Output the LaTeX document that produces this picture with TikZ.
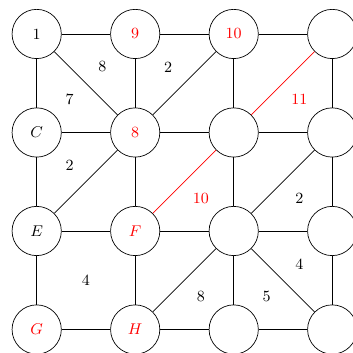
\documentclass[tikz,border=0pt]{standalone}
\begin{document}
\begin{tikzpicture}[
  v/.style={circle,draw,minimum size=1cm,inner sep=0pt,font=\small},
  hot/.style={text=red},
  lab/.style={font=\small},
  redlab/.style={font=\small,text=red},
  redge/.style={draw=red}
]
\useasboundingbox (-0.745,-6.457) rectangle (6.422,0.690);
% row 0
\node[v] (a0) at (0,0) {1};
\node[v,hot] (b0) at (2,0) {9};
\node[v,hot] (c0) at (4,0) {10};
\node[v] (d0) at (6,0) {};
% row 1
\node[v] (a1) at (0,-2) {$C$};
\node[v,hot] (b1) at (2,-2) {8};
\node[v] (c1) at (4,-2) {};
\node[v] (d1) at (6,-2) {};
% row 2
\node[v] (a2) at (0,-4) {$E$};
\node[v,hot] (b2) at (2,-4) {$F$};
\node[v] (c2) at (4,-4) {};
\node[v] (d2) at (6,-4) {};
% row 3
\node[v,hot] (a3) at (0,-6) {$G$};
\node[v,hot] (b3) at (2,-6) {$H$};
\node[v] (c3) at (4,-6) {};
\node[v] (d3) at (6,-6) {};
% horizontal edges
\draw (a0) -- (b0); \draw (b0) -- (c0); \draw (c0) -- (d0);
\draw (a1) -- (b1); \draw (b1) -- (c1); \draw (c1) -- (d1);
\draw (a2) -- (b2); \draw (b2) -- (c2); \draw (c2) -- (d2);
\draw (a3) -- (b3); \draw (b3) -- (c3); \draw (c3) -- (d3);
% vertical edges
\draw (a0) -- (a1); \draw (a1) -- (a2); \draw (a2) -- (a3);
\draw (b0) -- (b1); \draw (b1) -- (b2); \draw (b2) -- (b3);
\draw (c0) -- (c1); \draw (c1) -- (c2); \draw (c2) -- (c3);
\draw (d0) -- (d1); \draw (d1) -- (d2); \draw (d2) -- (d3);
% diagonals
\draw (a0) -- (b1);
\draw (c0) -- (b1);
\draw (a2) -- (b1);
\draw[redge] (d0) -- (c1);
\draw[redge] (c1) -- (b2);
\draw (d1) -- (c2);
\draw (c2) -- (b3);
\draw (c2) -- (d3);
% labels
\node[lab] (l1) at (barycentric cs:a0=1,b0=1,b1=1) {8};
\node[lab] (l2) at (barycentric cs:a0=1,a1=1,b1=1) {7};
\node[lab] (l3) at (barycentric cs:b0=1,c0=1,b1=1) {2};
\node[redlab] (l4) at (barycentric cs:d0=1,c1=1,d1=1) {11};
\node[lab] (l5) at (barycentric cs:a1=1,b1=1,a2=1) {2};
\node[redlab] (l6) at (barycentric cs:c1=1,b2=1,c2=1) {10};
\node[lab] (l7) at (barycentric cs:d1=1,c2=1,d2=1) {2};
\node[lab] (l8) at (barycentric cs:a2=1,b2=1,a3=1,b3=1) {4};
\node[lab] (l9) at (barycentric cs:c2=1,b3=1,c3=1) {8};
\node[lab] (l10) at (barycentric cs:c2=1,c3=1,d3=1) {5};
\node[lab] (l11) at (barycentric cs:c2=1,d2=1,d3=1) {4};
\end{tikzpicture}
\end{document}
